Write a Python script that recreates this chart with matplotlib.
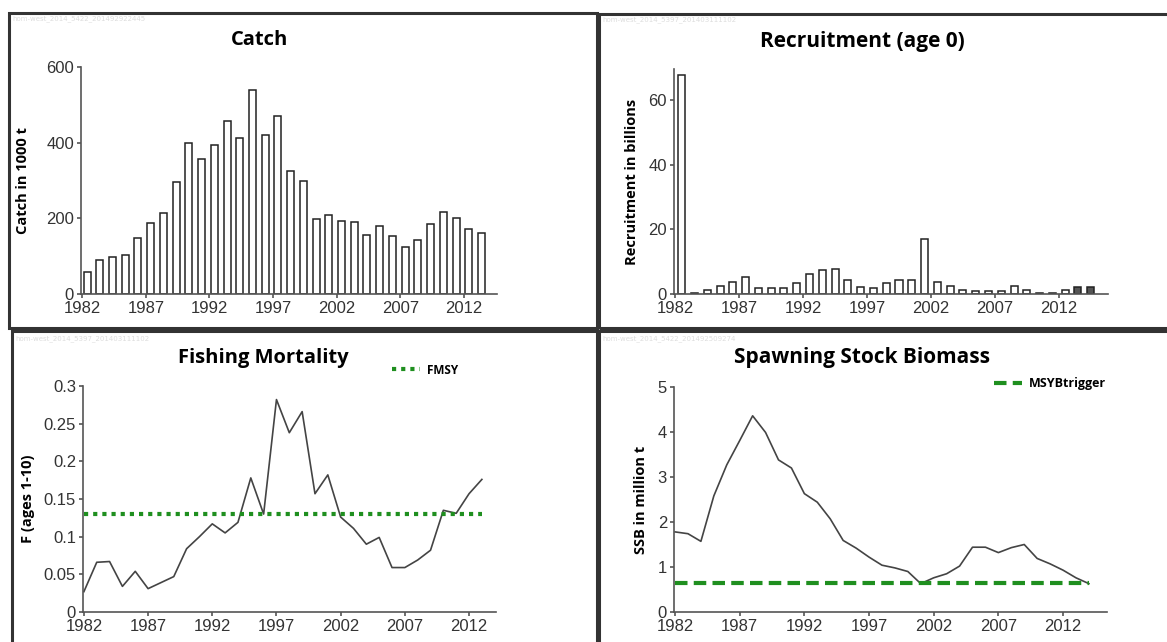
import matplotlib
matplotlib.use("Agg")
import matplotlib.pyplot as plt
from matplotlib.patches import Rectangle
import numpy as np

# ---------------- data ----------------
catch_years = list(range(1982, 2014))
catch_values = [59, 90, 97, 103, 147, 187, 215, 295, 398, 357, 395, 458, 412, 538,
                421, 471, 325, 298, 197, 210, 193, 191, 157, 180, 153, 123, 143, 184,
                217, 200, 171, 160]

recr_years = list(range(1982, 2015))
recr_values = [67.7, 0.3, 1.3, 2.6, 3.7, 5.2, 1.9, 1.9, 1.9, 3.3, 6.2, 7.4, 7.7, 4.3,
               2.3, 1.9, 3.3, 4.2, 4.2, 17.1, 3.7, 2.6, 1.3, 0.8, 0.8, 1.0, 2.6, 1.1,
               0.3, 0.3, 1.3, 2.3, 2.3]
recr_estimated = [False] * 31 + [True, True]

f_years = list(range(1982, 2014))
f_values = [0.027, 0.066, 0.067, 0.034, 0.054, 0.031, 0.039, 0.047, 0.084, 0.100,
            0.117, 0.105, 0.119, 0.178, 0.130, 0.282, 0.238, 0.266, 0.157, 0.182,
            0.126, 0.111, 0.090, 0.099, 0.059, 0.059, 0.069, 0.082, 0.135, 0.131,
            0.157, 0.176]
fmsy = 0.13

ssb_years = list(range(1982, 2015))
ssb_values = [1.78, 1.74, 1.57, 2.58, 3.27, 3.81, 4.36, 3.99, 3.38, 3.20, 2.63, 2.44,
              2.07, 1.59, 1.42, 1.22, 1.04, 0.98, 0.90, 0.63, 0.76, 0.85, 1.02, 1.44,
              1.44, 1.32, 1.43, 1.50, 1.19, 1.07, 0.93, 0.76, 0.63]
msy_btrigger = 0.634

xticks = [1982, 1987, 1992, 1997, 2002, 2007, 2012]
titles = ["Catch", "Recruitment (age 0)", "Fishing Mortality", "Spawning Stock Biomass"]
ylabels = ["Catch in 1000 t", "Recruitment in billions", "F (ages 1-10)", "SSB in million t"]
watermarks = ["hom-west_2014_5422_201492922445", "hom-west_2014_5397_201403111102",
              "hom-west_2014_5397_201403111102", "hom-west_2014_5422_201492509274"]

# ---------------- style ----------------
W, H = 1167, 642
fig = plt.figure(figsize=(W / 100, H / 100), dpi=100)
fig.patch.set_facecolor("white")

tick_font = ["Liberation Sans Narrow", "Liberation Sans", "DejaVu Sans"]
title_font = ["Open Sans", "DejaVu Sans"]
TICK_COLOR = "#333333"
GREEN = "#1f8f1f"
LINE_COLOR = "#444444"


def fig_box(l, t, r, b):
    return [l / W, 1 - b / H, (r - l) / W, (b - t) / H]


def frame(l, t, r, b):
    fig.add_artist(Rectangle((l / W, 1 - b / H), (r - l) / W, (b - t) / H,
                             transform=fig.transFigure, fill=False,
                             edgecolor="#333333", linewidth=2.2, zorder=0))


def style_axes(ax, xlim, ylim, yticks, yticklabels=None):
    ax.set_xlim(*xlim)
    ax.set_ylim(*ylim)
    for s in ["top", "right"]:
        ax.spines[s].set_visible(False)
    for s in ["left", "bottom"]:
        ax.spines[s].set_color("#555555")
        ax.spines[s].set_linewidth(1.2)
    ax.set_xticks(xticks)
    ax.set_xticklabels([str(x) for x in xticks])
    ax.set_yticks(yticks)
    if yticklabels is not None:
        ax.set_yticklabels(yticklabels)
    ax.tick_params(axis="both", direction="out", length=3, width=1.2,
                   color="#555555", labelcolor=TICK_COLOR, labelsize=12, pad=2)
    for lab in ax.get_xticklabels() + ax.get_yticklabels():
        lab.set_family(tick_font)
    ax.set_facecolor("none")


# panel frames
frame(9, 13, 597, 328)
frame(599, 14, 1172, 328)
frame(12, 331, 597, 650)
frame(599, 331, 1172, 650)

# watermark
wm_pos = [(12, 19), (602, 20), (15, 339), (602, 339)]
for (x, y), txt in zip(wm_pos, watermarks):
    fig.text(x / W, 1 - y / H, txt, fontsize=5, color="#dddddd", va="center", ha="left")

# ---------------- Catch ----------------
ax1 = fig.add_axes(fig_box(81, 67, 497, 294))
ax1.bar(np.array(catch_years) + 0.38, catch_values, width=0.55, color="white",
        edgecolor="#222222", linewidth=1.1)
style_axes(ax1, (1981.9, 2014.6), (0, 600), [0, 200, 400, 600])
ax1.set_ylabel(ylabels[0], fontsize=10.5, fontweight="bold", family=title_font, labelpad=12)
fig.text(260 / W, 1 - 40 / H, titles[0], fontsize=14.5, fontweight="bold",
         family=title_font, ha="center", va="center")

# ---------------- Recruitment ----------------
ax2 = fig.add_axes(fig_box(674, 69, 1108, 294))
colors = ["#555555" if e else "white" for e in recr_estimated]
ax2.bar(np.array(recr_years) + 0.5, recr_values, width=0.55, color=colors,
        edgecolor="#222222", linewidth=1.1)
style_axes(ax2, (1981.9, 2015.85), (0, 69.5), [0, 20, 40, 60])
ax2.set_ylabel(ylabels[1], fontsize=10.5, fontweight="bold", family=title_font, labelpad=7)
fig.text(862 / W, 1 - 42 / H, titles[1], fontsize=15, fontweight="bold",
         family=title_font, ha="center", va="center")

# ---------------- Fishing mortality ----------------
ax3 = fig.add_axes(fig_box(83, 386, 496, 612))
ax3.plot(f_years, f_values, color=LINE_COLOR, linewidth=1.2)
ax3.plot([f_years[0], f_years[-1]], [fmsy, fmsy], color=GREEN, linewidth=3,
         linestyle=(0, (1, 1.2)), label="FMSY")
style_axes(ax3, (1981.93, 2014.1), (0, 0.3), [0, 0.05, 0.1, 0.15, 0.2, 0.25, 0.3],
           ["0", "0.05", "0.1", "0.15", "0.2", "0.25", "0.3"])
ax3.set_ylabel(ylabels[2], fontsize=10.5, fontweight="bold", family=title_font, labelpad=6)
fig.text(263 / W, 1 - 358 / H, titles[2], fontsize=14.5, fontweight="bold",
         family=title_font, ha="center", va="center")
leg3 = ax3.legend(loc="upper left", bbox_to_anchor=(381 / W, 1 - 353 / H),
                  bbox_transform=fig.transFigure, frameon=False, handlelength=2.4,
                  handletextpad=0.6, prop={"family": title_font, "weight": "bold", "size": 8.5})

# ---------------- SSB ----------------
ax4 = fig.add_axes(fig_box(674, 387, 1107, 612))
ax4.plot(ssb_years, ssb_values, color=LINE_COLOR, linewidth=1.2)
ax4.plot([ssb_years[0], ssb_years[-1]], [msy_btrigger, msy_btrigger], color=GREEN,
         linewidth=3, linestyle=(0, (3, 1.5)), label="MSYBtrigger")
style_axes(ax4, (1981.92, 2015.4), (0, 5), [0, 1, 2, 3, 4, 5])
ax4.set_ylabel(ylabels[3], fontsize=10.5, fontweight="bold", family=title_font, labelpad=7)
fig.text(862 / W, 1 - 358 / H, titles[3], fontsize=15, fontweight="bold",
         family=title_font, ha="center", va="center")
leg4 = ax4.legend(loc="upper left", bbox_to_anchor=(983 / W, 1 - 366 / H),
                  bbox_transform=fig.transFigure, frameon=False, handlelength=2.2,
                  handletextpad=0.6, prop={"family": title_font, "weight": "bold", "size": 9})

fig.savefig("out.png", dpi=100, facecolor="white")
